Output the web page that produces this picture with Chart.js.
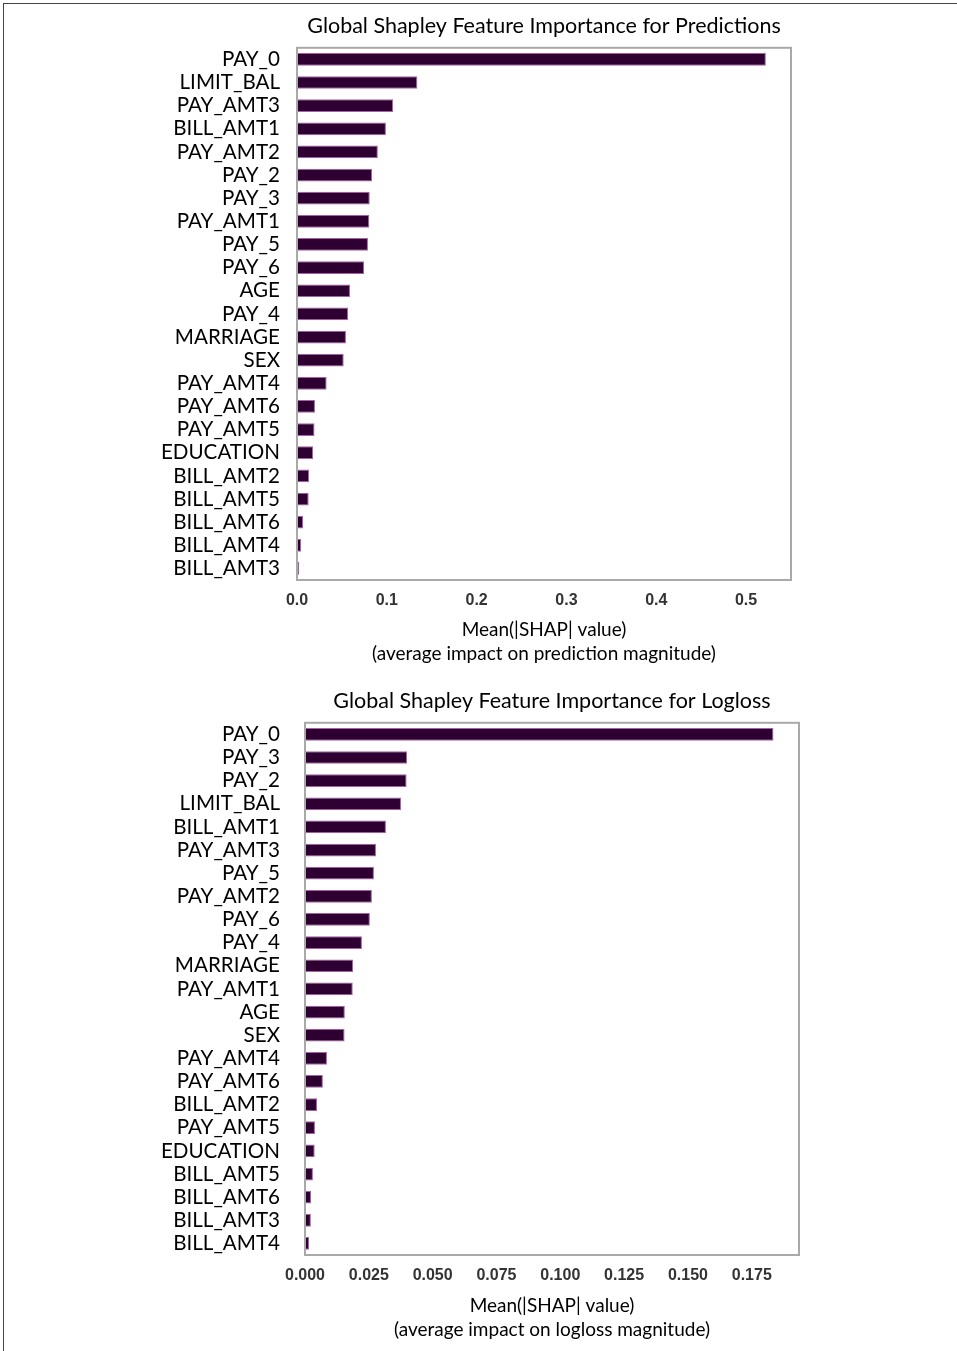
<!DOCTYPE html>
<html>
<head>
<meta charset="utf-8">
<script src="https://cdn.jsdelivr.net/npm/chart.js@4"></script>
<style>
  html, body { margin: 0; padding: 0; background: #fff; }
  body { width: 957px; height: 1351px; position: relative; overflow: hidden; }
  .frame { position: absolute; left: 3px; top: 3px; width: 1000px; height: 1400px;
           border-left: 1px solid #444; border-top: 1px solid #444; }
  .box { position: absolute; left: 0; width: 957px; }
  #box1 { top: 0; height: 675px; }
  #box2 { top: 675px; height: 676px; }
</style>
</head>
<body>
<div class="frame"></div>
<div class="box" id="box1"><canvas id="predChart"></canvas></div>
<div class="box" id="box2"><canvas id="lossChart"></canvas></div>
<script>
// top chart: predictions
const predLabels = ['PAY_0', 'LIMIT_BAL', 'PAY_AMT3', 'BILL_AMT1', 'PAY_AMT2', 'PAY_2', 'PAY_3',
  'PAY_AMT1', 'PAY_5', 'PAY_6', 'AGE', 'PAY_4', 'MARRIAGE', 'SEX', 'PAY_AMT4', 'PAY_AMT6',
  'PAY_AMT5', 'EDUCATION', 'BILL_AMT2', 'BILL_AMT5', 'BILL_AMT6', 'BILL_AMT4', 'BILL_AMT3'];
const predValues = [0.522, 0.134, 0.107, 0.099, 0.090, 0.0835, 0.081,
  0.0805, 0.079, 0.0746, 0.059, 0.057, 0.0545, 0.052, 0.033, 0.020,
  0.0195, 0.018, 0.0134, 0.013, 0.0067, 0.0045, 0.0025];

// bottom chart: logloss
const lossLabels = ['PAY_0', 'PAY_3', 'PAY_2', 'LIMIT_BAL', 'BILL_AMT1', 'PAY_AMT3', 'PAY_5',
  'PAY_AMT2', 'PAY_6', 'PAY_4', 'MARRIAGE', 'PAY_AMT1', 'AGE', 'SEX', 'PAY_AMT4', 'PAY_AMT6',
  'BILL_AMT2', 'PAY_AMT5', 'EDUCATION', 'BILL_AMT5', 'BILL_AMT6', 'BILL_AMT3', 'BILL_AMT4'];
const lossValues = [0.1835, 0.040, 0.0398, 0.0376, 0.0317, 0.0278, 0.027,
  0.0262, 0.0254, 0.0223, 0.0188, 0.0187, 0.0156, 0.0155, 0.0086, 0.007,
  0.0047, 0.0039, 0.0038, 0.0031, 0.0024, 0.0023, 0.0016];

const predTicks = { max: 0.55, step: 0.1, digits: 1 };
const lossTicks = { max: 0.1935, step: 0.025, digits: 3 };

const labelFont = 'Lato';

// grey frame around the plot area
const frameBox = {
  id: 'frameBox',
  afterDraw(chart) {
    const a = chart.chartArea, c = chart.ctx;
    c.save();
    c.strokeStyle = '#a9a9a9';
    c.lineWidth = 2;
    c.strokeRect(a.left, a.top, a.right - a.left, a.bottom - a.top);
    c.restore();
  }
};

function makeChart(id, labels, values, ticks, title, sub, yWidth, rightPad, xHeight) {
  return new Chart(document.getElementById(id), {
    type: 'bar',
    data: {
      labels: labels,
      datasets: [{
        data: values,
        backgroundColor: '#2e0031',
        borderColor: '#a860a8',
        borderWidth: 1,
        barPercentage: 0.55,
        categoryPercentage: 1
      }]
    },
    options: {
      indexAxis: 'y',
      responsive: true,
      maintainAspectRatio: false,
      animation: false,
      layout: { padding: { left: 0, right: rightPad, top: 0, bottom: 0 } },
      plugins: {
        legend: { display: false },
        tooltip: { enabled: false },
        title: {
          display: true,
          text: title,
          fullSize: false,
          color: '#000',
          font: { family: labelFont, size: 21.5, weight: 'normal' },
          padding: { top: 13, bottom: 9 }
        }
      },
      scales: {
        x: {
          min: 0,
          max: ticks.max,
          grid: { display: false, drawTicks: false },
          border: { display: false },
          ticks: {
            stepSize: ticks.step,
            includeBounds: false,
            padding: 11,
            color: '#333',
            font: { family: 'Liberation Sans', size: 16, weight: 'bold' },
            callback: v => Number(v).toFixed(ticks.digits)
          },
          title: {
            display: true,
            text: ['Mean(|SHAP| value)', sub],
            color: '#000',
            font: { family: labelFont, size: 19, lineHeight: 1.26 },
            padding: { top: 9, bottom: 9 }
          },
          afterFit(scale) { scale.height = xHeight; }
        },
        y: {
          grid: { display: false, drawTicks: false },
          border: { display: false },
          ticks: {
            padding: yWidth - 280,
            color: '#000',
            autoSkip: false,
            font: { family: labelFont, size: 20.6 }
          },
          afterFit(scale) { scale.width = yWidth; }
        }
      }
    },
    plugins: [frameBox]
  });
}

makeChart('predChart', predLabels, predValues, predTicks,
  'Global Shapley Feature Importance for Predictions',
  '(average impact on prediction magnitude)', 297, 957 - 791, 675 - 580);
makeChart('lossChart', lossLabels, lossValues, lossTicks,
  'Global Shapley Feature Importance for Logloss',
  '(average impact on logloss magnitude)', 305, 957 - 799, 676 - 580);
</script>
</body>
</html>
